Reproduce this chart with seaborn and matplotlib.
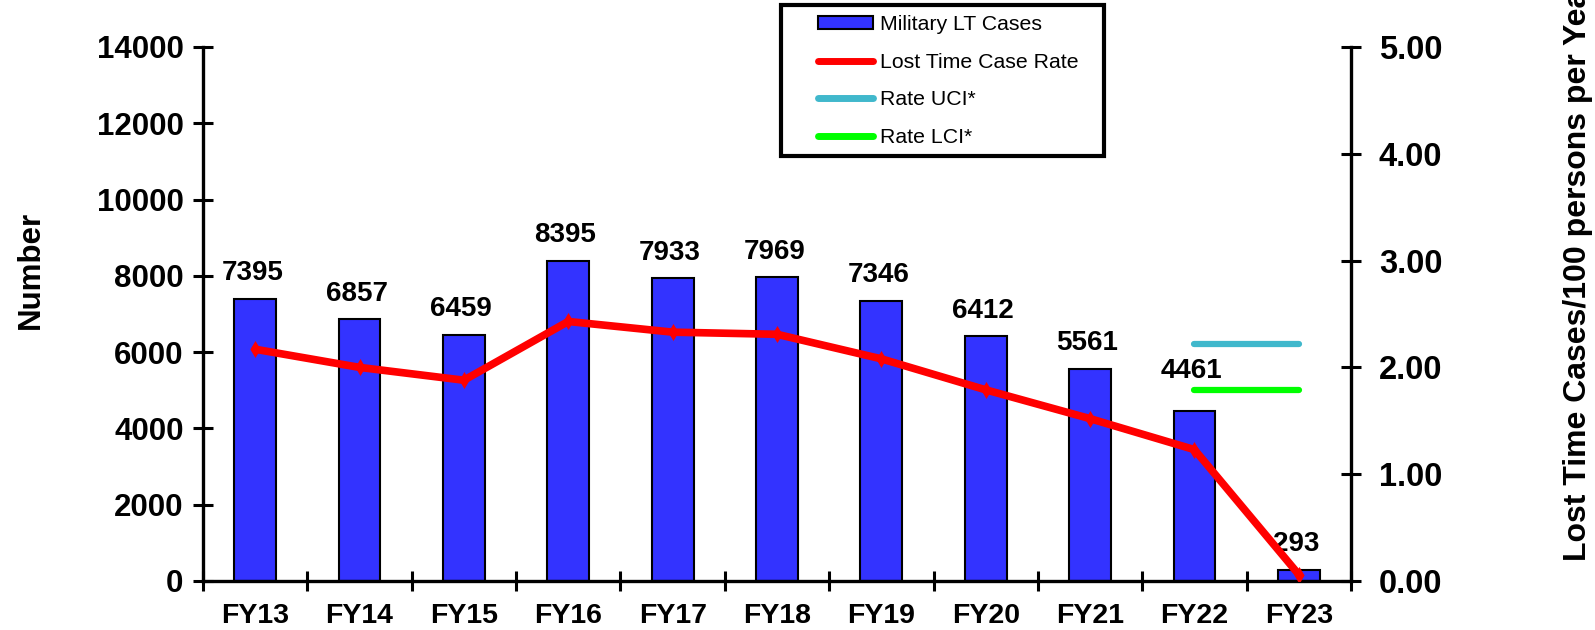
import matplotlib
matplotlib.use('Agg')
import matplotlib.pyplot as plt
from matplotlib.patches import Patch, Rectangle
from matplotlib.lines import Line2D
import numpy as np
import pandas as pd
import seaborn as sns

# donnees
years = ['FY13', 'FY14', 'FY15', 'FY16', 'FY17', 'FY18', 'FY19', 'FY20', 'FY21', 'FY22', 'FY23']
cases = [7395, 6857, 6459, 8395, 7933, 7969, 7346, 6412, 5561, 4461, 293]
rate = [2.17, 2.00, 1.88, 2.43, 2.33, 2.31, 2.08, 1.79, 1.52, 1.23, 0.06]
rate_uci = [np.nan] * 9 + [2.22, 2.22]
rate_lci = [np.nan] * 9 + [1.79, 1.79]

left_ticks = [0, 2000, 4000, 6000, 8000, 10000, 12000, 14000]
right_ticks = [0, 1, 2, 3, 4, 5]


def main():
    sns.set_style('white')
    plt.rcParams['font.family'] = ['Liberation Sans', 'DejaVu Sans']
    plt.rcParams['font.weight'] = 'bold'
    for k in ('text.color', 'axes.labelcolor', 'xtick.color', 'ytick.color'):
        plt.rcParams[k] = 'black'

    df = pd.DataFrame({'year': years, 'cases': cases, 'rate': rate,
                       'uci': rate_uci, 'lci': rate_lci})

    fig = plt.figure(figsize=(15.95, 6.3), dpi=100)
    ax = fig.add_axes([203 / 1595, 1 - 581 / 630, 1148 / 1595, 534 / 630])

    sns.barplot(data=df, x='year', y='cases', order=years, color='#3333FF',
                saturation=1, width=0.4, edgecolor='black', linewidth=1.5, ax=ax)

    # etiquette FY22 remontee au-dessus de la ligne LCI
    for i, (y, v) in enumerate(zip(df['year'], df['cases'])):
        dy = 19 if y == 'FY22' else 9
        ax.annotate(str(v), (i, v), xytext=(-2, dy), textcoords='offset points',
                    ha='center', va='bottom', fontsize=20, fontweight='bold')

    ax.set_ylim(0, 14000)
    ax.set_yticks(left_ticks)
    ax.set_ylabel('')
    ax.set_xlabel('')

    ax2 = ax.twinx()
    sns.pointplot(data=df, x='year', y='rate', order=years, color='red',
                  errorbar=None, markers='d', markersize=3, lw=5.5, ax=ax2)
    d_uci = df.dropna(subset=['uci'])
    sns.pointplot(data=d_uci, x='year', y='uci', order=years, color='#40B8CC',
                  errorbar=None, markers='', lw=4.5, ax=ax2)
    d_lci = df.dropna(subset=['lci'])
    sns.pointplot(data=d_lci, x='year', y='lci', order=years, color='#00FF00',
                  errorbar=None, markers='', lw=4.5, ax=ax2)
    for ln in ax2.lines:
        ln.set_solid_capstyle('round')

    ax2.set_ylim(0, 5)
    ax2.set_yticks(right_ticks)
    ax2.set_yticklabels(['%.2f' % t for t in right_ticks])
    ax2.set_ylabel('')
    ax2.set_xlabel('')
    ax2.set_xlim(-0.5, len(years) - 0.5)

    # axes et graduations
    for a in (ax, ax2):
        a.spines['top'].set_visible(False)
        for s in a.spines.values():
            s.set_linewidth(2.4)
            s.set_color('black')
    ax.spines['right'].set_visible(False)
    ax2.spines['left'].set_visible(False)
    ax2.spines['bottom'].set_visible(False)

    ax.set_xticks(range(len(years)))
    ax.set_xticklabels(years)
    ax.set_xticks(np.arange(-0.5, len(years)), minor=True)
    ax.tick_params(axis='x', which='major', length=0, pad=16, labelsize=20.5)
    ax.tick_params(axis='x', which='minor', direction='inout', length=14,
                   width=2.2, color='black', bottom=True)
    ax.tick_params(axis='y', direction='inout', length=14, width=2.2,
                   color='black', pad=7, labelsize=22.5, left=True)
    ax2.tick_params(axis='y', direction='inout', length=14, width=2.2,
                    color='black', pad=13, labelsize=23.5, right=True)
    for lab in ax.get_xticklabels() + ax.get_yticklabels() + ax2.get_yticklabels():
        lab.set_fontweight('bold')

    fig.text(31 / 1595, 1 - 270 / 630, 'Number', rotation=90, ha='center',
             va='center', fontsize=22.5, fontweight='bold')
    fig.text(1578 / 1595, 1 - 561 / 630, 'Lost Time Cases/100 persons per Year',
             rotation=90, ha='center', va='bottom', fontsize=23, fontweight='bold')

    # legende : cadre dessine a part
    fig.patches.append(Rectangle((781 / 1595, 1 - 156 / 630), 323 / 1595, 151 / 630,
                                 transform=fig.transFigure, fill=True,
                                 facecolor='white', edgecolor='black',
                                 linewidth=3, zorder=5))
    handles = [
        Patch(facecolor='#3333FF', edgecolor='black', linewidth=1.5),
        Line2D([], [], color='red', lw=5, solid_capstyle='round'),
        Line2D([], [], color='#40B8CC', lw=5, solid_capstyle='round'),
        Line2D([], [], color='#00FF00', lw=5, solid_capstyle='round'),
    ]
    labels = ['Military LT Cases', 'Lost Time Case Rate', 'Rate UCI*', 'Rate LCI*']
    leg = fig.legend(handles, labels, loc='upper left',
                     bbox_to_anchor=(818 / 1595, 1 - 15 / 630),
                     prop={'family': 'Liberation Sans', 'weight': 'normal', 'size': 15.3},
                     frameon=False, borderpad=0, labelspacing=0.88,
                     handlelength=2.6, handleheight=0.6, handletextpad=0.3,
                     borderaxespad=0)
    leg.set_zorder(6)
    for t in leg.get_texts():
        t.set_color('black')

    plt.savefig('out.png', dpi=100)


if __name__ == "__main__":
    main()
